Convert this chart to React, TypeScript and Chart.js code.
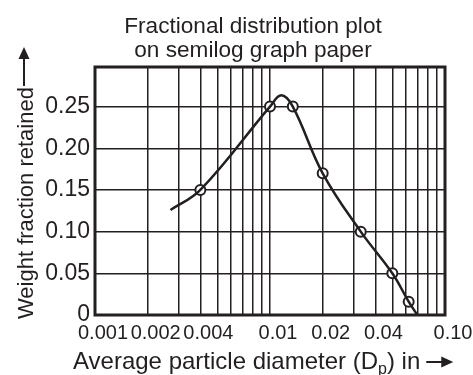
import { useEffect, useRef } from "react";
import { Chart, registerables } from "chart.js";

Chart.register(...registerables);

// ---- text ----
const titleLines = ["Fractional distribution plot", "on semilog graph paper"];
const yAxisTitle = "Weight fraction retained";
const xAxisTitleMain = "Average particle diameter (D";
const xAxisTitleSub = "p";
const xAxisTitleEnd = ") in";

// ---- data ----
// plotted (circled) points
const pointDiameters = [0.004, 0.01, 0.0135, 0.02, 0.033, 0.05, 0.062];
const pointFractions = [0.15, 0.25, 0.25, 0.17, 0.1, 0.05, 0.016];

// smooth curve drawn through them
const curveDiameters = [0.0027, 0.004, 0.01, 0.0116, 0.0135, 0.02, 0.033, 0.05, 0.062, 0.0695];
const curveFractions = [0.126, 0.15, 0.25, 0.2635, 0.25, 0.17, 0.1, 0.05, 0.016, 0];

// ---- axes ----
const xGridValues = [
  0.001, 0.002, 0.003, 0.004, 0.005, 0.006, 0.007, 0.008, 0.009,
  0.01, 0.02, 0.03, 0.04, 0.05, 0.06, 0.07, 0.08, 0.09, 0.1,
];
const xTickValues = [0.001, 0.002, 0.004, 0.01, 0.02, 0.04, 0.1];
const xTickLabels = ["0.001", "0.002", "0.004", "0.01", "0.02", "0.04", "0.10"];
const yTickValues = [0, 0.05, 0.1, 0.15, 0.2, 0.25];
const yTickLabels = ["0", "0.05", "0.10", "0.15", "0.20", "0.25"];
const xMin = 0.001;
const xMax = 0.1;
const yMin = 0;
const yMax = 0.2975;

const INK = "#231f20";
const FAMILY = "'Liberation Sans', Arial, Helvetica, sans-serif";

function drawArrow(ctx: CanvasRenderingContext2D, x0: number, x1: number, y: number) {
  const headLen = 12;
  const headW = 11;
  ctx.beginPath();
  ctx.lineWidth = 2;
  ctx.moveTo(x0, y);
  ctx.lineTo(x1 - headLen + 1, y);
  ctx.stroke();
  ctx.beginPath();
  ctx.moveTo(x1, y);
  ctx.lineTo(x1 - headLen, y - headW / 2);
  ctx.lineTo(x1 - headLen, y + headW / 2);
  ctx.closePath();
  ctx.fill();
}

const paperPlugin = {
  id: "paperText",
  afterDraw(chart: any) {
    const { ctx, chartArea } = chart;
    ctx.save();
    ctx.strokeStyle = INK;
    ctx.fillStyle = INK;
    // frame
    ctx.lineWidth = 3;
    ctx.strokeRect(
      chartArea.left,
      chartArea.top,
      chartArea.right - chartArea.left,
      chartArea.bottom - chartArea.top
    );
    // title
    ctx.font = `22.6px ${FAMILY}`;
    ctx.textAlign = "center";
    ctx.textBaseline = "alphabetic";
    ctx.fillText(titleLines[0], 253, 33);
    ctx.fillText(titleLines[1], 253, 57);

    // y axis title (rotated) with arrow
    ctx.save();
    ctx.translate(33, 319);
    ctx.rotate(-Math.PI / 2);
    ctx.font = `22px ${FAMILY}`;
    ctx.textAlign = "left";
    ctx.fillText(yAxisTitle, 0, 0);
    const yw = ctx.measureText(yAxisTitle).width;
    drawArrow(ctx, yw + 1, 272, -9);
    ctx.restore();

    // x axis title with subscript and arrow
    ctx.textAlign = "left";
    let x = 73;
    const base = 369;
    ctx.font = `24px ${FAMILY}`;
    ctx.fillText(xAxisTitleMain, x, base);
    x += ctx.measureText(xAxisTitleMain).width;
    ctx.font = `16px ${FAMILY}`;
    ctx.fillText(xAxisTitleSub, x, base + 5);
    x += ctx.measureText(xAxisTitleSub).width;
    ctx.font = `24px ${FAMILY}`;
    ctx.fillText(xAxisTitleEnd, x, base);
    x += ctx.measureText(xAxisTitleEnd).width;
    drawArrow(ctx, x + 6, x + 33, base - 7);
    ctx.restore();
  },
};

function labelFor(values: number[], labels: string[], v: number) {
  const i = values.findIndex((t) => Math.abs(t - v) <= Math.max(1e-9, Math.abs(t) * 1e-6));
  return i >= 0 ? labels[i] : "";
}

export default function App() {
  const ref = useRef<HTMLCanvasElement>(null);

  useEffect(() => {
    if (!ref.current) return;
    const curve = curveDiameters.map((d, i) => ({ x: d, y: curveFractions[i] }));
    const pts = pointDiameters.map((d, i) => ({ x: d, y: pointFractions[i] }));

    const chart = new Chart(ref.current, {
      type: "scatter",
      data: {
        datasets: [
          {
            data: curve,
            showLine: true,
            borderColor: INK,
            borderWidth: 2.5,
            pointRadius: 0,
            tension: 0.4,
            fill: false,
          } as any,
          {
            data: pts,
            showLine: false,
            pointRadius: 5,
            pointBorderWidth: 2,
            pointBackgroundColor: "#ffffff",
            pointBorderColor: INK,
          } as any,
        ],
      },
      options: {
        animation: false,
        responsive: true,
        maintainAspectRatio: false,
        layout: { padding: { left: 40, right: 28, top: 67, bottom: 30 } },
        plugins: {
          legend: { display: false },
          tooltip: { enabled: false },
          title: { display: false },
        },
        scales: {
          x: {
            type: "logarithmic",
            min: xMin,
            max: xMax,
            afterBuildTicks: (scale: any) => {
              scale.ticks = xGridValues.map((v) => ({ value: v }));
            },
            afterFit: (scale: any) => {
              scale.height = 30;
            },
            grid: { color: INK, lineWidth: 1.5, drawTicks: false },
            border: { display: false },
            ticks: {
              autoSkip: false,
              maxRotation: 0,
              minRotation: 0,
              padding: 6,
              labelOffset: 8,
              color: INK,
              font: { family: FAMILY, size: 20 },
              callback: (v: any) => labelFor(xTickValues, xTickLabels, Number(v)),
            },
          },
          y: {
            type: "linear",
            min: yMin,
            max: yMax,
            afterBuildTicks: (scale: any) => {
              scale.ticks = yTickValues.map((v) => ({ value: v }));
            },
            afterFit: (scale: any) => {
              scale.width = 55;
            },
            grid: { color: INK, lineWidth: 1.5, drawTicks: false },
            border: { display: false },
            ticks: {
              padding: 5,
              color: INK,
              font: { family: FAMILY, size: 23 },
              callback: (v: any) => labelFor(yTickValues, yTickLabels, Number(v)),
            },
          },
        },
      },
      plugins: [paperPlugin],
    });
    return () => chart.destroy();
  }, []);

  return (
    <div
      style={{
        position: "fixed",
        left: 0,
        top: 0,
        width: 473,
        height: 375,
        background: "#ffffff",
      }}
    >
      <canvas ref={ref} />
    </div>
  );
}
